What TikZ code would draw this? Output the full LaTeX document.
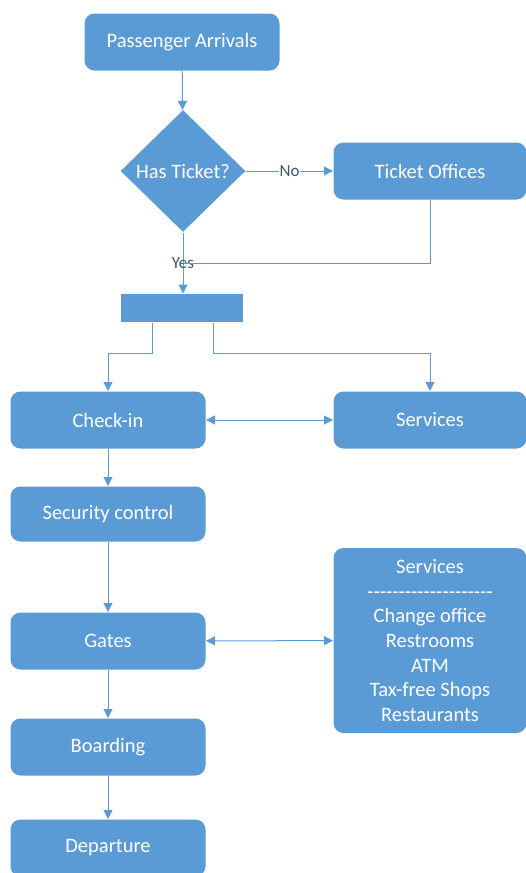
\documentclass[tikz,border=0pt]{standalone}
\usepackage{fontspec}
\setmainfont{Carlito}
\usetikzlibrary{shapes.geometric,arrows.meta}
\definecolor{boxblue}{HTML}{5B9BD5}
\definecolor{labelgray}{HTML}{44546A}
\newcommand{\dashrule}{\foreach\i in {1,...,20}{-\kern0pt}}

\begin{document}
\begin{tikzpicture}[x=1pt, y=-1pt, >={Triangle[length=9pt,width=9pt]},
	line width=1pt, draw=boxblue,
	main node/.style={rectangle,rounded corners=10pt,fill=boxblue,text=white,
		font=\fontsize{20.5}{24.7}\selectfont,minimum width=195pt,minimum height=57pt,inner sep=0pt},
	side node/.style={main node,minimum width=193pt},
	choice node/.style={diamond,fill=boxblue,text=white,font=\fontsize{20.5}{24}\selectfont,
		minimum width=125pt,minimum height=122pt,inner sep=0pt},
	bar node/.style={rectangle,fill=boxblue,minimum width=122pt,minimum height=28pt,inner sep=0pt},
	link/.style={draw=boxblue,line width=1pt}]

	\useasboundingbox (0,0) rectangle (526,873);
	\clip (0,0) rectangle (526,873);

	\node[main node] (1) at (182,42) {Passenger Arrivals};
	\node[choice node] (2) at (183,171) {Has Ticket?};
	\node[side node] (3) at (430,171) {Ticket Offices};
	\node[bar node] (4) at (182,308) {};
	\node[main node] (5) at (108,420) {Check-in};
	\node[side node] (6) at (430,420) {Services};
	\node[main node,minimum height=55pt] (7) at (108,514) {Security control};
	\node[main node] (8) at (108,641) {Gates};
	\node[side node,minimum height=185pt,align=center] (9) at (430,640.5)
		{Services\\\dashrule\\Change office\\Restrooms\\ATM\\Tax-free Shops\\Restaurants};
	\node[main node] (10) at (108,747) {Boarding};
	\node[main node] (11) at (108,848) {Departure};
	\coordinate (12) at (183,263);

	\path[link,every node/.style={font=\fontsize{17}{19}\selectfont,text=labelgray,inner sep=1pt}]
	(1) edge[->] (2)
	(2) edge[->] node[fill=white] {No} (3)
	(2.south) edge[->] node {Yes} (4.north -| 2.south)
	(5) edge[<->] (6)
	(5) edge[->] (7)
	(7) edge[->] (8)
	(8) edge[<->] (9)
	(8) edge[->] (10)
	(10) edge[->] (11);

	\draw[link] (3) |- (12);
	\draw[link,->] ([xshift=-30pt]4.south) -- ++(0,31) -| (5);
	\draw[link,->] ([xshift=31pt]4.south) -- ++(0,31) -| (6);
\end{tikzpicture}
\end{document}
